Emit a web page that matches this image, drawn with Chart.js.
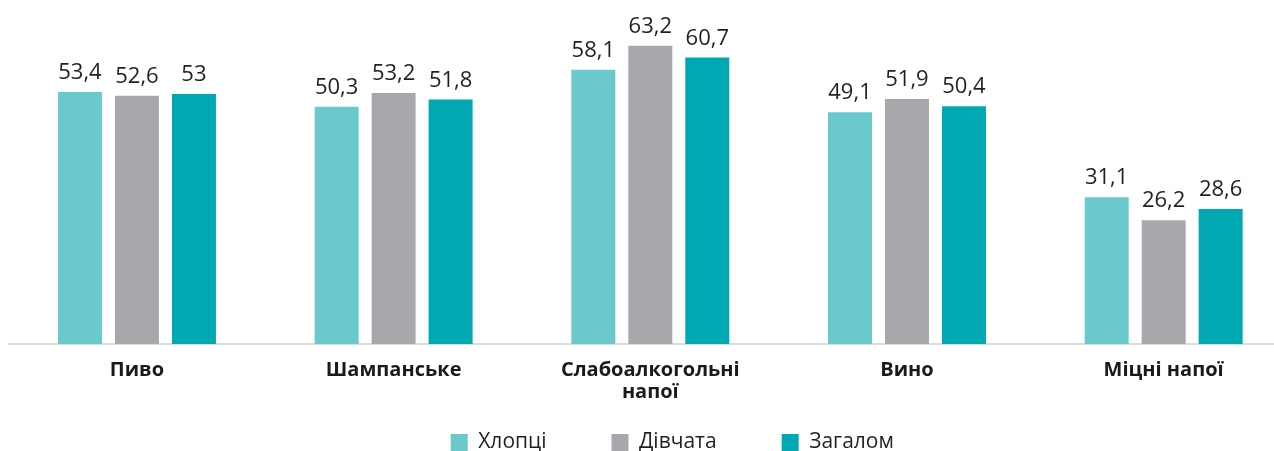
<!DOCTYPE html>
<html>
<head>
<meta charset="utf-8">
<script src="https://cdn.jsdelivr.net/npm/chart.js@4"></script>
<style>
  html, body { margin: 0; padding: 0; background: #fff; overflow: hidden; }
  #wrap { width: 1292px; height: 515px; }
</style>
</head>
<body>
<div id="wrap"><canvas id="drinksChart"></canvas></div>
<script>
// categories and series
const categories = ['Пиво', 'Шампанське', ['Слабоалкогольні', 'напої'], 'Вино', 'Міцні напої'];
const boys  = [53.4, 50.3, 58.1, 49.1, 31.1];
const girls = [52.6, 53.2, 63.2, 51.9, 26.2];
const total = [53, 51.8, 60.7, 50.4, 28.6];
const seriesNames = ['Хлопці', 'Дівчата', 'Загалом'];

const FONT = "'Open Sans', 'Noto Sans', sans-serif";

// ── value labels above each bar ──────────────────────
const valueLabels = {
  id: 'valueLabels',
  afterDatasetsDraw(chart) {
    const ctx = chart.ctx;
    ctx.save();
    ctx.font = '22px ' + FONT;
    ctx.fillStyle = '#231f20';
    ctx.textAlign = 'center';
    ctx.textBaseline = 'alphabetic';
    chart.data.datasets.forEach((ds, i) => {
      chart.getDatasetMeta(i).data.forEach((bar, j) => {
        ctx.fillText(String(ds.data[j]).replace('.', ','), bar.x, bar.y - 13);
      });
    });
    ctx.restore();
  }
};

// the wide legend padding also pushes it down; pull it back up and a bit right
const legendShift = {
  id: 'legendShift',
  afterLayout(chart) {
    const lg = chart.legend;
    lg.left += 22;
    lg.right += 22;
    lg.top -= 52;
    lg.bottom -= 52;
  }
};

new Chart(document.getElementById('drinksChart'), {
  type: 'bar',
  data: {
    labels: categories,
    datasets: [
      { label: seriesNames[0], data: boys,  backgroundColor: '#69c9cd' },
      { label: seriesNames[1], data: girls, backgroundColor: '#a7a8ac' },
      { label: seriesNames[2], data: total, backgroundColor: '#00a9b1' }
    ]
  },
  options: {
    responsive: true,
    maintainAspectRatio: false,
    animation: false,
    layout: { padding: { left: 8.6, top: 0, right: 0, bottom: 0 } },
    datasets: { bar: { categoryPercentage: 0.666, barPercentage: 0.772 } },
    plugins: {
      tooltip: { enabled: false },
      legend: {
        position: 'bottom',
        labels: {
          boxWidth: 17,
          boxHeight: 17,
          padding: 65,
          color: '#231f20',
          font: { family: FONT, size: 21 }
        }
      }
    },
    scales: {
      x: {
        grid: { display: false, drawTicks: false },
        border: { display: true, color: '#dcdcdc', width: 2 },
        ticks: {
          padding: 15,
          maxRotation: 0,
          autoSkip: false,
          color: '#1a1a1a',
          font: { family: FONT, size: 20, weight: 'bold', lineHeight: 1.1 }
        },
        afterFit(scale) { scale.height = 75; }
      },
      y: {
        display: false,
        min: 0,
        max: 72.9
      }
    }
  },
  plugins: [valueLabels, legendShift]
});
</script>
</body>
</html>
